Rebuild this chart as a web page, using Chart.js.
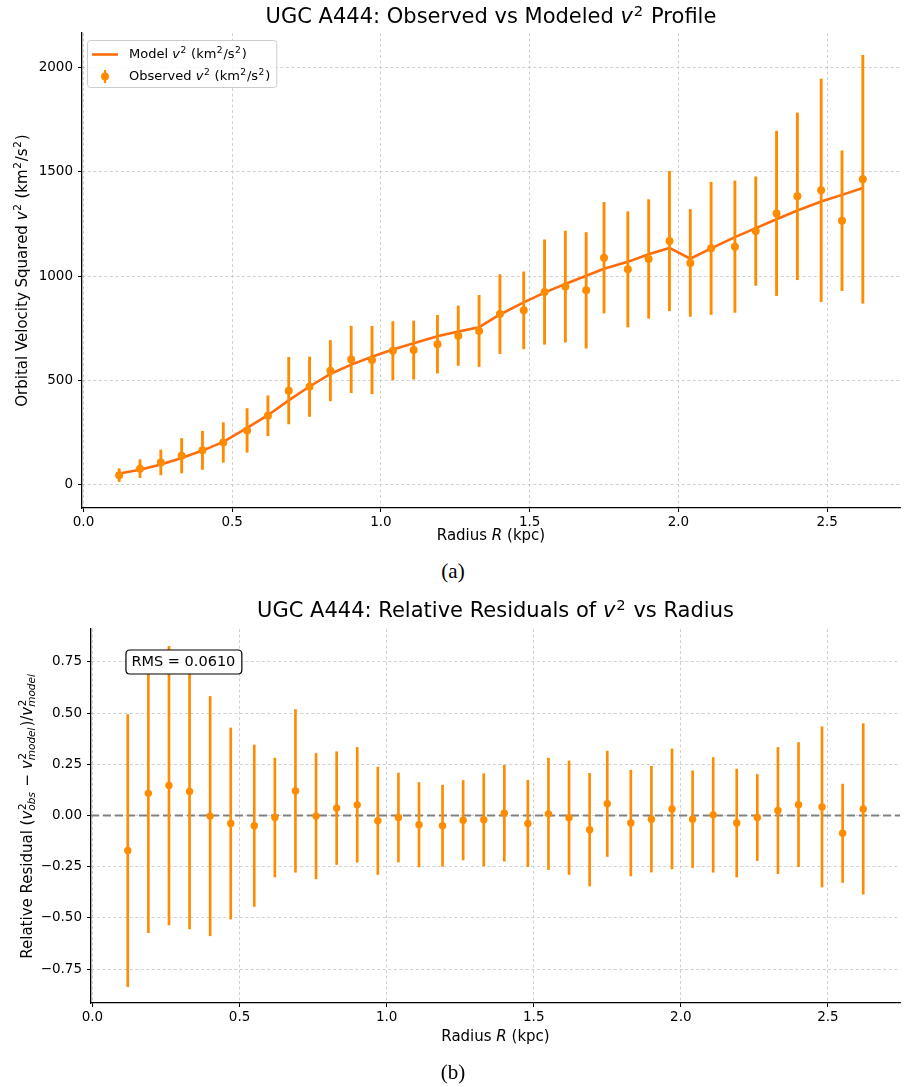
<!DOCTYPE html>
<html>
<head>
<meta charset="utf-8">
<title>UGC A444 rotation curve</title>
<script src="https://cdn.jsdelivr.net/npm/chart.js@4.4.1/dist/chart.umd.min.js"></script>
<style>
  html, body { margin: 0; padding: 0; background: #fff; }
  #page { position: relative; width: 906px; height: 1087px; overflow: hidden; background: #fff; }
  canvas { position: absolute; left: 0; }
  #topChart { top: 0; }
  #bottomChart { top: 585px; }
  .cap { position: absolute; left: 0; width: 906px; text-align: center;
         font-family: "Liberation Serif", "DejaVu Serif", serif; font-size: 21px; color: #000; }
</style>
</head>
<body>
<div id="page">
  <canvas id="topChart" width="906" height="552"></canvas>
  <div class="cap" style="top:559px">(a)</div>
  <canvas id="bottomChart" width="906" height="502"></canvas>
  <div class="cap" style="top:1060px">(b)</div>
</div>
<script>
// ---- data: radius samples and v^2 values ----
const radiusKpc = [0.12, 0.19, 0.26, 0.33, 0.40, 0.47, 0.55, 0.62, 0.69, 0.76, 0.83, 0.90,
                   0.97, 1.04, 1.11, 1.19, 1.26, 1.33, 1.40, 1.48, 1.55, 1.62, 1.69, 1.75,
                   1.83, 1.90, 1.97, 2.04, 2.11, 2.19, 2.26, 2.33, 2.40, 2.48, 2.55, 2.62];

const v2Observed = [43, 74, 104, 136, 162, 200, 258, 328, 449, 468, 545, 599,
                    596, 641, 644, 672, 713, 736, 817, 835, 923, 949, 931, 1088,
                    1032, 1082, 1168, 1063, 1133, 1141, 1216, 1301, 1383, 1412, 1266, 1465];

const v2ObservedErr = [31, 43, 60, 83, 92, 95, 105, 96, 160, 143, 145, 160,
                       162, 140, 140, 139, 143, 171, 190, 185, 251, 267, 278, 266,
                       277, 285, 335, 257, 318, 316, 261, 395, 401, 535, 336, 596];

const v2Model = [51, 69, 94, 125, 161, 203, 270, 331, 402, 469, 529, 574,
                 612, 647, 677, 710, 733, 754, 815, 873, 920, 962, 1001, 1035,
                 1068, 1105, 1135, 1083, 1133, 1187, 1230, 1273, 1315, 1358, 1390, 1423];

const relResidual = [-0.171, 0.108, 0.146, 0.117, -0.003, -0.039, -0.050, -0.010, 0.120, -0.003, 0.036, 0.052,
                     -0.026, -0.010, -0.045, -0.050, -0.023, -0.021, 0.011, -0.039, 0.008, -0.011, -0.069, 0.057,
                     -0.037, -0.018, 0.032, -0.018, 0.003, -0.037, -0.010, 0.024, 0.053, 0.042, -0.087, 0.032];

const relResidualErr = [0.664, 0.680, 0.680, 0.670, 0.584, 0.466, 0.394, 0.290, 0.397, 0.306, 0.275, 0.280,
                        0.262, 0.217, 0.206, 0.198, 0.194, 0.225, 0.234, 0.211, 0.272, 0.277, 0.275, 0.257,
                        0.258, 0.258, 0.293, 0.236, 0.280, 0.263, 0.210, 0.308, 0.303, 0.391, 0.240, 0.416];

const rmsLabel = 'RMS = 0.0610';

// ---- tick labels and axis limits ----
const radiusTicks = [0.0, 0.5, 1.0, 1.5, 2.0, 2.5];
const v2Ticks = [0, 500, 1000, 1500, 2000];
const residualTicks = [-0.75, -0.5, -0.25, 0.0, 0.25, 0.5, 0.75];
const radiusLimits = [-0.005, 2.745];
const v2Limits = [-115, 2168];
const residualLimits = [-0.915, 0.91];

// ---- styling ----
const FAM = '"DejaVu Sans", "Liberation Sans", sans-serif';
const MODEL_COLOR = '#ff6c0c';
const OBS_COLOR = '#ff8c00';
const GRID_COLOR = '#c4c4c4';

// ---- rich text (italic symbols, super/subscripts) drawn on the canvas ----
function fontStr(size, italic) { return (italic ? 'italic ' : '') + size + 'px ' + FAM; }

function layoutRich(ctx, segs, size) {
  const pieces = [];
  let x = 0;
  for (const s of segs) {
    if (s.t !== undefined) {
      ctx.font = fontStr(size, s.it);
      pieces.push({ text: s.t, font: ctx.font, x: x, dy: 0 });
      x += ctx.measureText(s.t).width;
    } else {
      const small = size * 0.7;
      let adv = 0;
      if (s.sup) {
        ctx.font = fontStr(small, false);
        pieces.push({ text: s.sup, font: ctx.font, x: x + size * 0.04, dy: s.sub ? -size * 0.34 : -size * 0.3 });
        adv = Math.max(adv, ctx.measureText(s.sup).width + size * 0.04);
      }
      if (s.sub) {
        ctx.font = fontStr(small, true);
        pieces.push({ text: s.sub, font: ctx.font, x: x, dy: size * 0.3 });
        adv = Math.max(adv, ctx.measureText(s.sub).width);
      }
      x += adv + size * 0.06;
    }
  }
  return { pieces: pieces, width: x };
}

function drawRich(ctx, segs, size, x, y, opts) {
  opts = opts || {};
  const L = layoutRich(ctx, segs, size);
  ctx.save();
  ctx.translate(x, y);
  if (opts.rotate) ctx.rotate(opts.rotate);
  ctx.fillStyle = opts.color || '#000';
  ctx.textBaseline = 'middle';
  ctx.textAlign = 'left';
  const x0 = opts.align === 'left' ? 0 : -L.width / 2;
  for (const p of L.pieces) {
    ctx.font = p.font;
    ctx.fillText(p.text, x0 + p.x, p.dy);
  }
  ctx.restore();
  return L.width;
}

function roundRect(ctx, x, y, w, h, r) {
  ctx.beginPath();
  ctx.moveTo(x + r, y);
  ctx.lineTo(x + w - r, y);
  ctx.quadraticCurveTo(x + w, y, x + w, y + r);
  ctx.lineTo(x + w, y + h - r);
  ctx.quadraticCurveTo(x + w, y + h, x + w - r, y + h);
  ctx.lineTo(x + r, y + h);
  ctx.quadraticCurveTo(x, y + h, x, y + h - r);
  ctx.lineTo(x, y + r);
  ctx.quadraticCurveTo(x, y, x + r, y);
  ctx.closePath();
}

// text pieces
const V2 = [{ t: 'v', it: true }, { sup: '2' }];
const UNITS = [{ t: ' (km' }, { sup: '2' }, { t: '/s' }, { sup: '2' }, { t: ')' }];
const titleTop = [{ t: 'UGC A444: Observed vs Modeled ' }, ...V2, { t: ' Profile' }];
const titleBottom = [{ t: 'UGC A444: Relative Residuals of ' }, ...V2, { t: ' vs Radius' }];
const xTitle = [{ t: 'Radius ' }, { t: 'R', it: true }, { t: ' (kpc)' }];
const yTitleTop = [{ t: 'Orbital Velocity Squared ' }, ...V2, ...UNITS];
const yTitleBottom = [{ t: 'Relative Residual (' }, { t: 'v', it: true }, { sup: '2', sub: 'obs' },
                      { t: ' \u2212 ' }, { t: 'v', it: true }, { sup: '2', sub: 'model' },
                      { t: ')/' }, { t: 'v', it: true }, { sup: '2', sub: 'model' }];
const legendModel = [{ t: 'Model ' }, ...V2, ...UNITS];
const legendObs = [{ t: 'Observed ' }, ...V2, ...UNITS];

// ---- shared axis builders ----
function xAxis(height) {
  return {
    type: 'linear', min: radiusLimits[0], max: radiusLimits[1], offset: false,
    grid: { offset: false, color: GRID_COLOR, lineWidth: 0.8, drawTicks: true,
            tickLength: 4, tickColor: '#000', tickWidth: 1, tickBorderDash: [] },
    border: { display: true, color: '#000', width: 1.3, dash: [3, 2.5] },
    ticks: { color: '#000', font: { family: FAM, size: 13.5 }, padding: 2, maxRotation: 0,
             includeBounds: false, callback: v => Number(v).toFixed(1) },
    afterBuildTicks: s => { s.ticks = radiusTicks.map(v => ({ value: v })); },
    afterFit: s => { s.height = height; }
  };
}

function yAxis(limits, ticks, fmt, width) {
  return {
    type: 'linear', min: limits[0], max: limits[1], beginAtZero: false,
    grid: { color: GRID_COLOR, lineWidth: 0.8, drawTicks: true,
            tickLength: 4, tickColor: '#000', tickWidth: 1, tickBorderDash: [] },
    border: { display: true, color: '#000', width: 1.3, dash: [3, 2.5] },
    ticks: { color: '#000', font: { family: FAM, size: 13.5 }, padding: 5, includeBounds: false, callback: fmt },
    afterBuildTicks: s => { s.ticks = ticks.map(v => ({ value: v })); },
    afterFit: s => { s.width = width; }
  };
}

function errorBars(values, errs) {
  return radiusKpc.map((r, i) => ({ x: r, y: [values[i] - errs[i], values[i] + errs[i]] }));
}
function points(values) { return radiusKpc.map((r, i) => ({ x: r, y: values[i] })); }

// ---- top panel: observed vs modeled v^2 ----
const topDecor = {
  id: 'topDecor',
  afterDatasetsDraw(chart) {
    const ctx = chart.ctx, ca = chart.chartArea;
    // legend
    const bx = ca.left + 5, by = ca.top + 7, fs = 13;
    const w1 = layoutRich(ctx, legendModel, fs).width;
    const w2 = layoutRich(ctx, legendObs, fs).width;
    const bw = 42 + Math.max(w1, w2) + 6, bh = 47;
    ctx.save();
    roundRect(ctx, bx + 0.5, by + 0.5, bw, bh, 3);
    ctx.fillStyle = 'rgba(255,255,255,0.85)';
    ctx.fill();
    ctx.strokeStyle = '#cccccc';
    ctx.lineWidth = 1;
    ctx.stroke();
    const r1 = by + 14.5, r2 = by + 36.5;
    ctx.strokeStyle = MODEL_COLOR;
    ctx.lineWidth = 2.6;
    ctx.beginPath(); ctx.moveTo(bx + 5, r1); ctx.lineTo(bx + 31, r1); ctx.stroke();
    ctx.strokeStyle = OBS_COLOR;
    ctx.lineWidth = 2.2;
    ctx.beginPath(); ctx.moveTo(bx + 18, r2 - 6.5); ctx.lineTo(bx + 18, r2 + 6.5); ctx.stroke();
    ctx.fillStyle = OBS_COLOR;
    ctx.beginPath(); ctx.arc(bx + 18, r2, 4, 0, Math.PI * 2); ctx.fill();
    ctx.restore();
    drawRich(ctx, legendModel, fs, bx + 42, r1, { align: 'left', color: '#000' });
    drawRich(ctx, legendObs, fs, bx + 42, r2, { align: 'left', color: '#000' });
  },
  afterDraw(chart) {
    const ctx = chart.ctx, ca = chart.chartArea;
    const cx = (ca.left + ca.right) / 2;
    drawRich(ctx, titleTop, 21, cx, 18);
    drawRich(ctx, xTitle, 15, cx, ca.bottom + 28);
    drawRich(ctx, yTitleTop, 15, 23, (ca.top + ca.bottom) / 2, { rotate: -Math.PI / 2 });
  }
};

new Chart(document.getElementById('topChart'), {
  type: 'scatter',
  data: {
    datasets: [
      { type: 'line', label: 'Model v\u00b2 (km\u00b2/s\u00b2)', data: points(v2Model),
        borderColor: MODEL_COLOR, borderWidth: 2.6, pointRadius: 0, tension: 0, fill: false, order: 3 },
      { type: 'bar', label: 'Observed v\u00b2 error', data: errorBars(v2Observed, v2ObservedErr),
        backgroundColor: OBS_COLOR, borderWidth: 0, barThickness: 2.2, grouped: false, order: 2 },
      { type: 'scatter', label: 'Observed v\u00b2 (km\u00b2/s\u00b2)', data: points(v2Observed),
        backgroundColor: OBS_COLOR, borderWidth: 0, pointRadius: 4, order: 1 }
    ]
  },
  options: {
    responsive: false, animation: false, devicePixelRatio: 1,
    layout: { padding: { top: 33, right: 6, left: 0, bottom: 0 } },
    plugins: { legend: { display: false }, tooltip: { enabled: false }, title: { display: false } },
    scales: {
      x: xAxis(44),
      y: yAxis(v2Limits, v2Ticks, v => String(v), 82)
    }
  },
  plugins: [topDecor]
});

// ---- bottom panel: relative residuals ----
const bottomDecor = {
  id: 'bottomDecor',
  afterDatasetsDraw(chart) {
    const ctx = chart.ctx, ca = chart.chartArea;
    const fs = 14.5;
    const tx = ca.left + 0.05 * (ca.right - ca.left);
    const ty = ca.top + 33;
    ctx.save();
    ctx.font = fontStr(fs, false);
    const tw = ctx.measureText(rmsLabel).width;
    roundRect(ctx, tx - 5.5, ty - 12, tw + 12, 24, 4);
    ctx.fillStyle = '#fff';
    ctx.fill();
    ctx.strokeStyle = '#000';
    ctx.lineWidth = 1.2;
    ctx.stroke();
    ctx.fillStyle = '#000';
    ctx.textBaseline = 'middle';
    ctx.fillText(rmsLabel, tx, ty + 0.5);
    ctx.restore();
  },
  afterDraw(chart) {
    const ctx = chart.ctx, ca = chart.chartArea;
    const cx = (ca.left + ca.right) / 2;
    drawRich(ctx, titleBottom, 21, cx, 27);
    drawRich(ctx, xTitle, 15, cx, ca.bottom + 34);
    drawRich(ctx, yTitleBottom, 15, 28, (ca.top + ca.bottom) / 2, { rotate: -Math.PI / 2 });
  }
};

new Chart(document.getElementById('bottomChart'), {
  type: 'scatter',
  data: {
    datasets: [
      { type: 'line', label: 'zero', data: [{ x: radiusLimits[0], y: 0 }, { x: radiusLimits[1], y: 0 }],
        borderColor: '#808080', borderWidth: 1.8, borderDash: [8, 4], pointRadius: 0, fill: false, order: 4 },
      { type: 'bar', label: 'Residual error', data: errorBars(relResidual, relResidualErr),
        backgroundColor: OBS_COLOR, borderWidth: 0, barThickness: 2, grouped: false, order: 2 },
      { type: 'scatter', label: 'Relative residual', data: points(relResidual),
        backgroundColor: OBS_COLOR, borderWidth: 0, pointRadius: 3.7, order: 1 }
    ]
  },
  options: {
    responsive: false, animation: false, devicePixelRatio: 1,
    layout: { padding: { top: 44, right: 6, left: 0, bottom: 0 } },
    plugins: { legend: { display: false }, tooltip: { enabled: false }, title: { display: false } },
    scales: {
      x: xAxis(84),
      y: yAxis(residualLimits, residualTicks,
               v => (v < 0 ? '\u2212' : '') + Math.abs(v).toFixed(2), 91)
    }
  },
  plugins: [bottomDecor]
});
</script>
</body>
</html>
